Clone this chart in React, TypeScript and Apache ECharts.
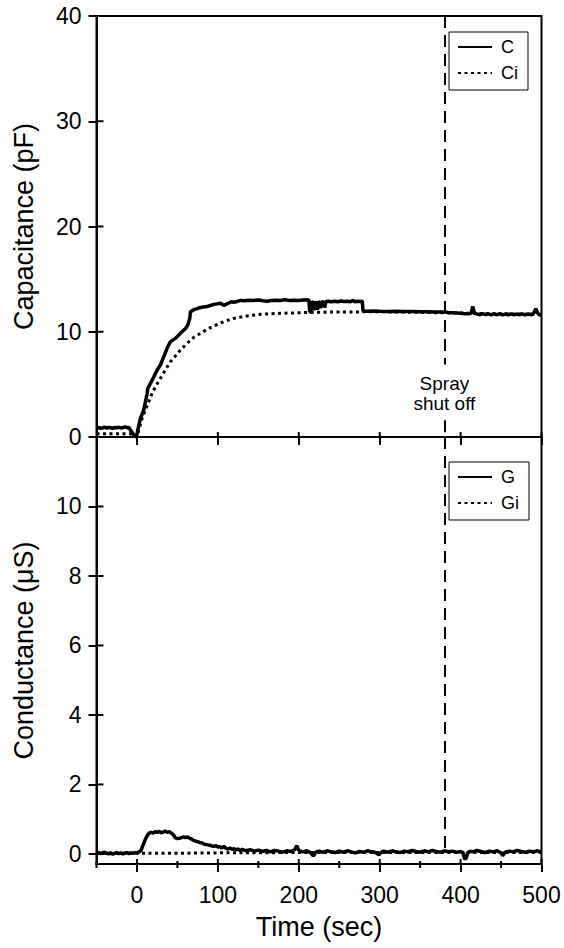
import React, { useEffect, useRef } from "react";
import * as echarts from "echarts";

// Axis ticks and labels
const TIME_TICKS = [0, 100, 200, 300, 400, 500];
const TIME_MINOR = [-50, 50, 150, 250, 350, 450];
const CAP_TICKS = [0, 10, 20, 30, 40];
const COND_TICKS = [0, 2, 4, 6, 8, 10];
const SPRAY_OFF_TIME = 380;

// Capacitance, measured (C) and fitted (Ci): [time s, pF]
const capC: [number, number][] = [
  [-50, 0.86], [-47, 0.9], [-45, 0.82], [-42, 0.88], [-40, 0.93], [-37, 0.85], [-35, 0.9],
  [-32, 0.87], [-30, 0.82], [-28, 0.9], [-25, 0.88], [-22, 0.93], [-20, 0.85], [-17, 0.9],
  [-14, 0.96], [-12, 0.88], [-10, 0.9], [-8, 0.66], [-4, 0.19], [-0.6, 0], [1, 0.66],
  [4.3, 1.77], [8.4, 2.57], [10.5, 3.36], [12.6, 4.15], [13.4, 4.62], [16.7, 5.1], [20.8, 5.7],
  [25, 6.37], [29, 6.84], [33.2, 7.63], [38.1, 8.58], [41.4, 9.06], [47.6, 9.37], [53.8, 9.85],
  [60, 10.3], [62.8, 10.64], [65.3, 11.27], [66.1, 11.9], [70.2, 12.1], [74.4, 12.2],
  [78.5, 12.3], [82.6, 12.35], [86.8, 12.4], [91, 12.5], [95, 12.6], [99, 12.65], [103.2, 12.7],
  [105.5, 12.6], [107.3, 12.5], [110, 12.6], [113.5, 12.73], [116.5, 12.85], [119.7, 12.8],
  [124, 12.88], [128, 12.98], [133, 12.95], [138, 13.0], [144, 12.98], [150, 13.02],
  [156, 12.95], [161, 12.9], [166, 12.97], [172, 13.0], [177, 12.98], [183, 13.03],
  [188, 12.98], [194, 13.0], [200, 12.97], [205, 13.02], [210, 13.04], [212.5, 13.0],
  [213.5, 11.88], [215, 11.9], [216.5, 12.85], [218, 12.8], [219, 12.05], [220.5, 12.85],
  [222, 12.7], [223, 12.1], [224.5, 12.85], [226, 12.8], [227, 12.25], [228.5, 12.85],
  [231, 12.8], [232, 12.3], [233.5, 12.85], [236, 12.9], [240, 12.85], [244, 12.9],
  [248, 12.85], [252, 12.92], [256, 12.88], [260, 12.9], [264, 12.85], [267, 13.0],
  [269, 12.85], [273, 12.9], [276, 12.88], [278.5, 12.9], [279.5, 11.95], [285, 11.95],
  [292, 11.97], [300, 11.95], [310, 11.93], [320, 11.95], [330, 11.92], [340, 11.93],
  [350, 11.9], [360, 11.9], [370, 11.88], [380, 11.87], [385, 11.82], [390, 11.8],
  [395, 11.78], [400, 11.75], [405, 11.72], [410, 11.72], [413, 11.75], [415, 12.4],
  [417, 11.78], [420, 11.7], [424, 11.62], [427, 11.72], [431, 11.62], [434, 11.7],
  [438, 11.6], [441, 11.7], [445, 11.62], [448, 11.7], [452, 11.6], [455, 11.68],
  [459, 11.6], [462, 11.7], [466, 11.6], [469, 11.68], [473, 11.62], [476, 11.7],
  [480, 11.6], [484, 11.68], [488, 11.62], [491, 11.85], [493, 12.2], [495, 11.8],
  [497, 11.62], [500, 11.6],
];

const capCi: [number, number][] = [
  [-50, 0.3], [-8, 0.3], [-3, 0.05], [0, 0], [2.3, 0.66], [6.4, 1.77], [10.5, 2.57],
  [14.6, 3.36], [18.7, 4.15], [22.9, 4.78], [29, 5.57], [35.2, 6.37], [41.4, 7.16],
  [47.6, 7.7], [53.8, 8.27], [62, 8.9], [70.2, 9.47], [78.5, 9.85], [86.7, 10.23],
  [95, 10.55], [107.3, 10.96], [119.7, 11.27], [136, 11.5], [152.7, 11.66], [177.4, 11.75],
  [218.5, 11.85], [259.8, 11.88], [301, 11.9], [380, 11.8], [500, 11.65],
];

// Conductance, measured (G) and fitted (Gi): [time s, µS]
const condG: [number, number][] = [
  [-50, 0.02], [-47.5, 0.04], [-45, 0.01], [-42.5, 0.03], [-40, 0.05], [-37.5, 0.02],
  [-35, 0.0], [-32.5, 0.03], [-30, -0.01], [-27.5, 0.02], [-25, 0.04], [-22.5, 0.01],
  [-20, 0.03], [-17.5, 0.0], [-15, 0.02], [-12.5, 0.04], [-10, 0.01], [-7.5, 0.03],
  [-5, 0.02], [-2.5, 0.04], [0, 0.03], [2.5, 0.06], [5, 0.1], [7.5, 0.25], [10, 0.4],
  [12.5, 0.52], [15, 0.6], [17.5, 0.62], [20, 0.6], [22.5, 0.64], [25, 0.62], [27.5, 0.65],
  [30, 0.61], [32.5, 0.63], [35, 0.66], [37.5, 0.62], [40, 0.64], [42.5, 0.6], [45, 0.55],
  [47.5, 0.46], [50, 0.44], [52.5, 0.45], [55, 0.47], [57.5, 0.49], [60, 0.47], [62.5, 0.49],
  [65, 0.45], [67.5, 0.43], [70, 0.39], [72.5, 0.37], [75, 0.35], [77.5, 0.33], [80, 0.32],
  [82.5, 0.29], [85, 0.27], [87.5, 0.26], [90, 0.25], [92.5, 0.23], [95, 0.22], [97.5, 0.24],
  [100, 0.2], [102.5, 0.21], [105, 0.17], [107.5, 0.22], [110, 0.16], [112.5, 0.14],
  [115, 0.17], [117.5, 0.13], [120, 0.15], [122.5, 0.12], [125, 0.14], [127.5, 0.1],
  [130, 0.13], [135, 0.09], [140, 0.12], [145, 0.08], [150, 0.11], [155, 0.07], [160, 0.1],
  [165, 0.06], [170, 0.1], [175, 0.08], [180, 0.05], [185, 0.09], [190, 0.07], [195, 0.12],
  [197.5, 0.24], [200, 0.1], [205, 0.06], [210, 0.09], [215, 0.03], [218, -0.06], [221, 0.05],
  [225, 0.08], [230, 0.05], [235, 0.09], [240, 0.06], [245, 0.04], [250, 0.08], [255, 0.05],
  [260, 0.09], [265, 0.06], [270, 0.03], [275, 0.07], [280, 0.05], [285, 0.09], [290, 0.06],
  [295, 0.04], [299, -0.03], [302, 0.05], [305, 0.08], [310, 0.05], [315, 0.09], [320, 0.06],
  [325, 0.04], [330, 0.08], [335, 0.06], [340, 0.1], [345, 0.07], [350, 0.05], [355, 0.09],
  [360, 0.06], [365, 0.1], [370, 0.07], [375, 0.05], [380, 0.09], [385, 0.06], [390, 0.08],
  [395, 0.05], [400, 0.07], [403, 0.04], [405, -0.15], [407, -0.12], [409, 0.04], [412, 0.08],
  [415, 0.06], [420, 0.1], [425, 0.07], [430, 0.04], [435, 0.08], [440, 0.06], [445, 0.09],
  [450, 0.03], [452, -0.05], [455, 0.05], [460, 0.08], [465, 0.06], [470, 0.1], [475, 0.07],
  [480, 0.05], [485, 0.08], [490, 0.06], [495, 0.09], [500, 0.05],
];

const condGi: [number, number][] = [
  [-50, 0.02], [0, 0.02], [50, 0.02], [100, 0.03], [200, 0.04], [300, 0.04], [400, 0.04], [500, 0.04],
];

const TIME_MIN = -50;
const TIME_MAX = 500;
const CAP_MIN = 0;
const CAP_MAX = 40;
const COND_MIN = -0.29;
const COND_MAX = 12;

const FONT = "'Liberation Sans', Arial, Helvetica, sans-serif";
const BLACK = "#000";
const SOLID = { color: BLACK, width: 3.5 };
const DOTTED = { color: BLACK, width: 3, type: [3, 3.5] as number[] };
const DASH = [12, 7];

// Plot frame
const LEFT = 96.5;
const WIDTH = 445;
const TOP = 16;
const MID = 437;
const BOTTOM = 864;

const frameGrid = (top: number, height: number) => ({
  left: LEFT, top, width: WIDTH, height,
  show: true, borderColor: BLACK, borderWidth: 2, outerBoundsMode: "none",
});

const tickLine = { color: BLACK, width: 2 };
const frameLine = { show: true, onZero: false, lineStyle: { color: BLACK, width: 2 } };

const legendBox = (names: string[], top: number) => ({
  data: names,
  left: 449,
  top,
  orient: "vertical",
  selectedMode: false,
  itemWidth: 34,
  itemHeight: 16,
  itemGap: 8,
  padding: [6, 10, 8, 8],
  borderColor: BLACK,
  borderWidth: 1,
  backgroundColor: "#fff",
  itemStyle: { color: "rgba(0,0,0,0)", borderColor: "rgba(0,0,0,0)", borderWidth: 0, opacity: 0 },
  textStyle: { color: BLACK, fontFamily: FONT, fontSize: 18, lineHeight: 16, padding: [0, 0, 0, 4] },
});

export default function App() {
  const ref = useRef<HTMLDivElement>(null);

  useEffect(() => {
    if (!ref.current) return;
    const chart = echarts.init(ref.current, undefined, { renderer: "svg" });

    const labelStyle = { color: BLACK, fontFamily: FONT, fontSize: 23 };
    const nameStyle = { color: BLACK, fontFamily: FONT, fontSize: 27 };
    const tick = (values: number[]) => ({ show: true, length: 8, customValues: values, lineStyle: tickLine });

    const option: any = {
      animation: false,
      backgroundColor: "#fff",
      grid: [frameGrid(TOP, MID - TOP), frameGrid(MID, BOTTOM - MID)],
      xAxis: [
        {
          type: "value", gridIndex: 0, min: TIME_MIN, max: TIME_MAX, position: "bottom",
          axisLine: frameLine, axisTick: tick(TIME_TICKS),
          axisLabel: { show: false, customValues: TIME_TICKS },
          splitLine: { show: false },
        },
        {
          type: "value", gridIndex: 1, min: TIME_MIN, max: TIME_MAX, position: "bottom",
          name: "Time (sec)", nameLocation: "middle", nameGap: 49, nameTextStyle: nameStyle,
          axisLine: frameLine, axisTick: tick(TIME_TICKS),
          axisLabel: { ...labelStyle, margin: 19, customValues: TIME_TICKS },
          splitLine: { show: false },
        },
      ],
      yAxis: [
        {
          type: "value", gridIndex: 0, min: CAP_MIN, max: CAP_MAX, interval: 10, position: "left",
          name: "Capacitance (pF)", nameLocation: "middle", nameGap: 59, nameTextStyle: nameStyle,
          axisLine: frameLine, axisTick: tick(CAP_TICKS),
          axisLabel: { ...labelStyle, margin: 15, customValues: CAP_TICKS },
          splitLine: { show: false },
        },
        {
          type: "value", gridIndex: 1, min: COND_MIN, max: COND_MAX, position: "left",
          name: "Conductance (\u03BCS)", nameLocation: "middle", nameGap: 59, nameTextStyle: nameStyle,
          axisLine: frameLine, axisTick: tick(COND_TICKS),
          axisLabel: { ...labelStyle, margin: 15, customValues: COND_TICKS },
          splitLine: { show: false },
        },
      ],
      legend: [legendBox(["C", "Ci"], 32), legendBox(["G", "Gi"], 462)],
      series: [
        {
          name: "Ci", type: "line", xAxisIndex: 0, yAxisIndex: 0, data: capCi,
          symbol: "none", showSymbol: false, lineStyle: DOTTED, itemStyle: { color: BLACK }, z: 2,
        },
        {
          name: "C", type: "line", xAxisIndex: 0, yAxisIndex: 0, data: capC,
          symbol: "none", showSymbol: false, lineStyle: SOLID, itemStyle: { color: BLACK }, z: 3,
          markLine: {
            silent: true,
            symbol: ["none", "none"],
            lineStyle: { color: BLACK, width: 2, type: DASH },
            label: { show: false },
            emphasis: { disabled: true },
            data: [
              [
                {
                  coord: [SPRAY_OFF_TIME, 40],
                  label: {
                    show: true, position: "end", distance: 9, formatter: "Spray\nshut off",
                    color: BLACK, fontFamily: FONT, fontSize: 19, lineHeight: 20, align: "center",
                  },
                },
                { coord: [SPRAY_OFF_TIME, 6.9] },
              ],
              [{ coord: [SPRAY_OFF_TIME, 1.6] }, { coord: [SPRAY_OFF_TIME, 0] }],
            ],
          },
        },
        {
          name: "Gi", type: "line", xAxisIndex: 1, yAxisIndex: 1, data: condGi,
          symbol: "none", showSymbol: false, lineStyle: DOTTED, itemStyle: { color: BLACK }, z: 2,
        },
        {
          name: "G", type: "line", xAxisIndex: 1, yAxisIndex: 1, data: condG,
          symbol: "none", showSymbol: false, lineStyle: SOLID, itemStyle: { color: BLACK }, z: 3,
          markLine: {
            silent: true,
            symbol: ["none", "none"],
            lineStyle: { color: BLACK, width: 2, type: DASH },
            label: { show: false },
            emphasis: { disabled: true },
            data: [[{ coord: [SPRAY_OFF_TIME, 12] }, { coord: [SPRAY_OFF_TIME, 0.1] }]],
          },
        },
      ],
    };

    chart.setOption(option);

    // Inner halves of the ticks (so they cross the frame), placed through the axes' scales
    const toPx = (gridIndex: number, x: number, y: number): number[] =>
      chart.convertToPixel({ gridIndex } as any, [x, y]) as number[];
    const seg = (x1: number, y1: number, x2: number, y2: number) => ({
      type: "line",
      silent: true,
      z: 10,
      shape: { x1, y1, x2, y2 },
      style: { stroke: BLACK, lineWidth: 2 },
    });
    const ticks: any[] = [];
    CAP_TICKS.forEach((v) => {
      const [x, y] = toPx(0, TIME_MIN, v);
      ticks.push(seg(x, y, x + 7, y));
    });
    COND_TICKS.forEach((v) => {
      const [x, y] = toPx(1, TIME_MIN, v);
      ticks.push(seg(x, y, x + 7, y));
    });
    TIME_TICKS.forEach((t) => {
      const [x, y] = toPx(0, t, CAP_MIN);
      ticks.push(seg(x, y, x, y - 5));
      const [xb, yb] = toPx(1, t, COND_MIN);
      ticks.push(seg(xb, yb, xb, yb - 5));
    });
    TIME_MINOR.forEach((t) => {
      const [x, y] = toPx(1, t, COND_MIN);
      ticks.push(seg(x, y - 3, x, y + 4));
    });
    chart.setOption({ graphic: ticks });

    return () => chart.dispose();
  }, []);

  return (
    <div
      ref={ref}
      style={{ position: "fixed", left: 0, top: 0, width: 564, height: 948, background: "#fff" }}
    />
  );
}
